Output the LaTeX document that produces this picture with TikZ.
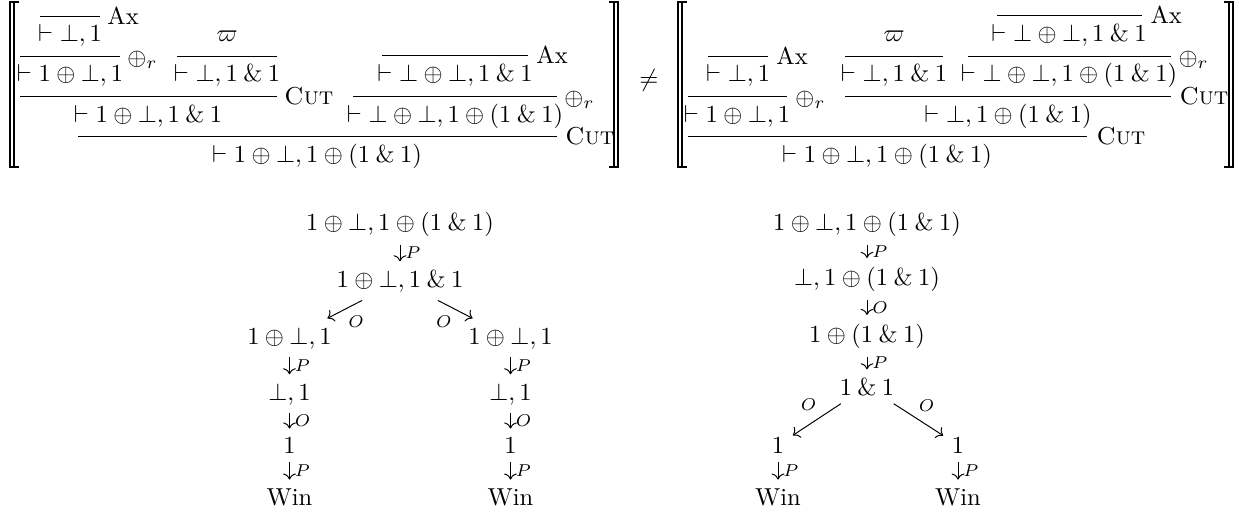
\documentclass[tikz,border=0pt]{standalone}
\usepackage{amsmath,amssymb}
\usetikzlibrary{cd}
\newcommand{\wth}{\mathbin{\&}}
\tikzset{
  seq/.style={inner sep=0pt, anchor=base},
  rl/.style={inner sep=0pt, anchor=base west},
  rulel/.style={line width=0.4pt},
  brk/.style={line width=0.55pt},
  tn/.style={inner sep=3.333pt, anchor=base},
  arr/.style={-cm to, line width=0.4pt},
  lab/.style={font=\scriptsize, inner sep=2pt}
}
\begin{document}
\begin{tikzpicture}[x=0.408pt, y=-0.408pt]
\useasboundingbox (0,0) rectangle (1239,512);

% ---------- brackets ----------
\draw[brk] (19,2) -- (10,2) -- (10,167) -- (19,167);
\draw[brk] (14,2) -- (14,167);
\draw[brk] (609,2) -- (618,2) -- (618,167) -- (609,167);
\draw[brk] (614,2) -- (614,167);
\draw[brk] (687,2) -- (678,2) -- (678,167) -- (687,167);
\draw[brk] (682,2) -- (682,167);
\draw[brk] (1224,2) -- (1233,2) -- (1233,167) -- (1224,167);
\draw[brk] (1229,2) -- (1229,167);

\node[inner sep=0pt] (neq) at (649,80) {$\neq$};

% ---------- left proof ----------
\draw[rulel] (40,16) -- (100,16);
\node[rl] (axA) at (107,24) {Ax};
\node[seq] (A1) at (70,41) {$\vdash \bot, 1$};
\draw[rulel] (20,56) -- (120,56);
\node[rl] (orA) at (127,65) {$\oplus_r$};
\node[seq] (A2) at (70,81) {$\vdash 1 \oplus \bot, 1$};
\node[seq] (pA) at (227,41) {$\varpi$};
\draw[rulel] (177,56) -- (277,56);
\node[seq] (A3) at (227,81) {$\vdash \bot, 1 \wth 1$};
\draw[rulel] (20,96) -- (277,96);
\node[rl] (cutA) at (284,104) {\textsc{Cut}};
\node[seq] (A4) at (148,122) {$\vdash 1 \oplus \bot, 1 \wth 1$};
\draw[rulel] (382,55) -- (528,55);
\node[rl] (axB) at (536,63) {Ax};
\node[seq] (B1) at (455,81) {$\vdash \bot \oplus \bot, 1 \wth 1$};
\draw[rulel] (353,96) -- (557,96);
\node[rl] (orB) at (564,105) {$\oplus_r$};
\node[seq] (B2) at (455,122) {$\vdash \bot \oplus \bot, 1 \oplus (1 \wth 1)$};
\draw[rulel] (78,136) -- (557,136);
\node[rl] (cutB) at (565,144) {\textsc{Cut}};
\node[seq] (A5) at (317,162) {$\vdash 1 \oplus \bot, 1 \oplus (1 \wth 1)$};

% ---------- right proof ----------
\draw[rulel] (708,56) -- (768,56);
\node[rl] (axC) at (776,64) {Ax};
\node[seq] (C1) at (738,81) {$\vdash \bot, 1$};
\draw[rulel] (688,96) -- (787,96);
\node[rl] (orC) at (795,105) {$\oplus_r$};
\node[seq] (C2) at (737,122) {$\vdash 1 \oplus \bot, 1$};
\node[seq] (pC) at (894,41) {$\varpi$};
\draw[rulel] (845,56) -- (943,56);
\node[seq] (C3) at (894,81) {$\vdash \bot, 1 \wth 1$};
\draw[rulel] (997,15) -- (1142,15);
\node[rl] (axD) at (1150,23) {Ax};
\node[seq] (D1) at (1069,41) {$\vdash \bot \oplus \bot, 1 \wth 1$};
\draw[rulel] (968,56) -- (1171,56);
\node[rl] (orD) at (1178,65) {$\oplus_r$};
\node[seq] (D2) at (1069,81) {$\vdash \bot \oplus \bot, 1 \oplus (1 \wth 1)$};
\draw[rulel] (845,96) -- (1171,96);
\node[rl] (cutD) at (1179,104) {\textsc{Cut}};
\node[seq] (C4) at (1008,122) {$\vdash \bot, 1 \oplus (1 \wth 1)$};
\draw[rulel] (688,136) -- (1087,136);
\node[rl] (cutC) at (1096,144) {\textsc{Cut}};
\node[seq] (C5) at (887,162) {$\vdash 1 \oplus \bot, 1 \oplus (1 \wth 1)$};

% ---------- left tree ----------
\node[tn] (t1) at (400,230) {$1 \oplus \bot, 1 \oplus (1 \wth 1)$};
\node[tn] (t2) at (400,287) {$1 \oplus \bot, 1 \wth 1$};
\node[tn] (t3l) at (289.5,344) {$1 \oplus \bot, 1$};
\node[tn] (t3r) at (510.5,344) {$1 \oplus \bot, 1$};
\node[tn] (t4l) at (289.5,400) {$\bot, 1$};
\node[tn] (t4r) at (510.5,400) {$\bot, 1$};
\node[tn] (t5l) at (289.5,453) {$1$};
\node[tn] (t5r) at (510.5,453) {$1$};
\node[tn] (t6l) at (289.5,505) {Win};
\node[tn] (t6r) at (510.5,505) {Win};
\draw[arr] (t1) -- node[lab, right] {$P$} (t2);
\draw[arr] (t2) -- node[lab, pos=0.55, anchor=north west] {$O$} (t3l);
\draw[arr] (t2) -- node[lab, pos=0.55, anchor=north east] {$O$} (t3r);
\draw[arr] (t3l) -- node[lab, right] {$P$} (t4l);
\draw[arr] (t4l) -- node[lab, right] {$O$} (t5l);
\draw[arr] (t5l) -- node[lab, right] {$P$} (t6l);
\draw[arr] (t3r) -- node[lab, right] {$P$} (t4r);
\draw[arr] (t4r) -- node[lab, right] {$O$} (t5r);
\draw[arr] (t5r) -- node[lab, right] {$P$} (t6r);

% ---------- right tree ----------
\node[tn] (s1) at (867,230) {$1 \oplus \bot, 1 \oplus (1 \wth 1)$};
\node[tn] (s2) at (867,285) {$\bot, 1 \oplus (1 \wth 1)$};
\node[tn] (s3) at (867,342) {$1 \oplus (1 \wth 1)$};
\node[tn] (s4) at (867,395) {$1 \wth 1$};
\node[tn] (s5l) at (778,453) {$1$};
\node[tn] (s5r) at (958,453) {$1$};
\node[tn] (s6l) at (778,505) {Win};
\node[tn] (s6r) at (958,505) {Win};
\draw[arr] (s1) -- node[lab, right] {$P$} (s2);
\draw[arr] (s2) -- node[lab, right] {$O$} (s3);
\draw[arr] (s3) -- node[lab, right] {$P$} (s4);
\draw[arr] (s4) -- node[lab, pos=0.4, anchor=south east] {$O$} (s5l);
\draw[arr] (s4) -- node[lab, pos=0.4, anchor=south west] {$O$} (s5r);
\draw[arr] (s5l) -- node[lab, right] {$P$} (s6l);
\draw[arr] (s5r) -- node[lab, right] {$P$} (s6r);
\end{tikzpicture}
\end{document}
